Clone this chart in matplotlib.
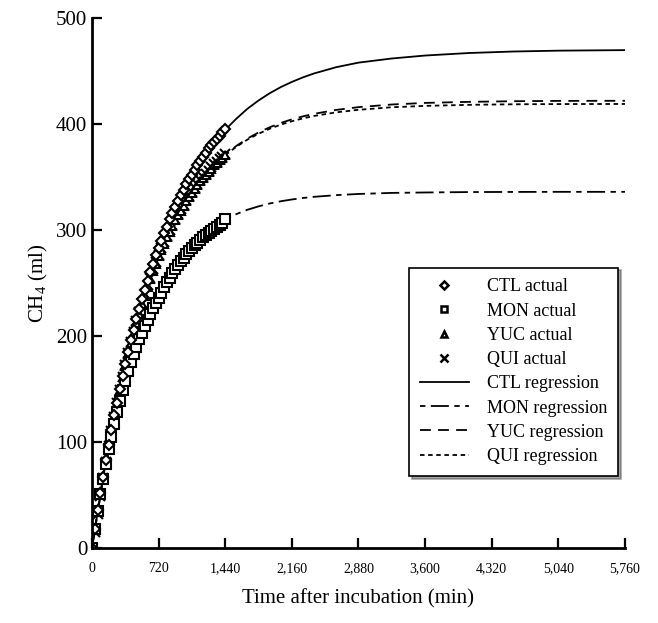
import numpy as np
import matplotlib
matplotlib.use("Agg")
import matplotlib.pyplot as plt
from matplotlib.lines import Line2D

plt.rcParams['font.family'] = ['Liberation Serif', 'DejaVu Serif']
plt.rcParams['mathtext.default'] = 'regular'

# measured gas production, every 30 min up to 1440 min
t_obs = np.arange(0, 1441, 30)
ctl_obs = [0, 18, 36, 52, 67, 83, 97, 111, 125, 137, 150, 162, 174, 185, 196, 206, 216,
           225, 235, 243, 252, 260, 268, 276, 283, 290, 297, 303, 310, 316, 322, 327, 333,
           338, 343, 348, 352, 357, 361, 365, 369, 373, 377, 380, 383, 386, 389, 392, 395]
mon_obs = [0, 18, 35, 51, 65, 79, 93, 105, 117, 128, 139, 149, 158, 167, 175, 183, 190,
           197, 203, 209, 215, 221, 226, 231, 236, 241, 246, 251, 255, 259, 263, 267, 271,
           274, 277, 280, 283, 286, 288, 291, 293, 295, 297, 299, 301, 303, 305, 307, 310]
yuc_obs = [0, 17, 34, 51, 67, 82, 97, 111, 124, 137, 149, 161, 172, 183, 193, 203, 212,
           221, 230, 238, 246, 254, 261, 268, 275, 281, 287, 293, 298, 304, 309, 314, 318,
           323, 327, 331, 335, 339, 342, 346, 349, 352, 355, 358, 361, 363, 366, 368, 371]
qui_obs = [0, 15, 32, 49, 66, 81, 96, 110, 124, 137, 149, 161, 173, 184, 194, 204, 214,
           223, 231, 240, 248, 255, 263, 270, 276, 283, 289, 294, 300, 305, 310, 315, 320,
           324, 328, 332, 336, 340, 343, 347, 350, 353, 356, 359, 362, 364, 367, 369, 372]

# fitted curves
t_fit = [0, 120, 240, 360, 480, 600, 720, 900, 1080, 1260, 1440, 1560, 1680, 1800, 1920,
         2040, 2160, 2280, 2400, 2640, 2880, 3240, 3600, 4080, 4560, 5040, 5760]
ctl_fit = [0, 66.5, 123.5, 172.5, 214.5, 250.7, 281.6, 320.1, 350.8, 375.1, 394.5, 405.0,
           414.4, 422.2, 429.0, 434.8, 439.7, 444.0, 447.7, 453.6, 457.9, 461.8, 464.6,
           467.0, 468.4, 469.2, 469.7]
mon_fit = [0, 64.6, 116.8, 159.0, 193.0, 220.5, 242.7, 268.3, 286.8, 300.3, 310.1, 315.0,
           319.1, 322.3, 325.0, 327.1, 328.8, 330.2, 331.3, 332.9, 334.0, 335.0, 335.4,
           335.8, 335.9, 336.0, 336.0]
yuc_fit = [0, 68.2, 125.5, 173.4, 213.6, 247.3, 275.6, 309.6, 335.7, 355.8, 371.2, 379.3,
           386.3, 392.0, 396.9, 401.0, 404.4, 407.2, 409.6, 413.3, 415.9, 418.4, 419.9,
           420.9, 421.5, 421.8, 421.9]
qui_fit = [0, 69.0, 126.7, 174.9, 215.0, 248.6, 276.7, 310.4, 336.1, 355.7, 370.7, 378.5,
           385.3, 390.8, 395.5, 399.4, 402.6, 405.3, 407.6, 411.0, 413.4, 415.8, 417.1,
           418.1, 418.6, 418.8, 418.9]

x_ticks = [0, 720, 1440, 2160, 2880, 3600, 4320, 5040, 5760]
x_labels = ['0', '720', '1,440', '2,160', '2,880', '3,600', '4,320', '5,040', '5,760']

fig = plt.figure(figsize=(6.58, 6.23), dpi=100)
ax = fig.add_axes([0.1398, 0.1204, 0.8100, 0.8507])

lw = 1.3
ax.plot(t_fit, ctl_fit, color='black', lw=lw, linestyle='-')
ax.plot(t_fit, mon_fit, color='black', lw=lw, dashes=(3, 3, 10, 3))
ax.plot(t_fit, yuc_fit, color='black', lw=lw, dashes=(6, 4))
ax.plot(t_fit, qui_fit, color='black', lw=lw, dashes=(2.5, 2))

mk = dict(linestyle='none', color='black', markerfacecolor='white', markeredgewidth=1.5)
ax.plot(t_obs, qui_obs, marker='x', markersize=7, **mk)
ax.plot(t_obs, yuc_obs, marker='^', markersize=6, **mk)
ax.plot(t_obs, mon_obs, marker='s', markersize=6.5, **mk)
ax.plot(t_obs, ctl_obs, marker='D', markersize=5.5, **mk)

ax.set_xlim(0, 5760)
ax.set_ylim(0, 500)
ax.set_xticks(x_ticks)
ax.set_xticklabels(x_labels, fontsize=10)
ax.set_yticks([0, 100, 200, 300, 400, 500])
ax.tick_params(axis='y', labelsize=15)
ax.tick_params(direction='in', length=7, width=1.6)
ax.tick_params(axis='x', pad=10)
for s in ['top', 'right']:
    ax.spines[s].set_visible(False)
for s in ['left', 'bottom']:
    ax.spines[s].set_linewidth(2)

ax.set_xlabel('Time after incubation (min)', fontsize=15, labelpad=10)
ax.set_ylabel('CH$_4$ (ml)', fontsize=15, labelpad=4)

handles = [
    Line2D([], [], linestyle='none', marker='D', markersize=4.5, color='black',
           markerfacecolor='white', markeredgewidth=1.8),
    Line2D([], [], linestyle='none', marker='s', markersize=5, color='black',
           markerfacecolor='white', markeredgewidth=1.8),
    Line2D([], [], linestyle='none', marker='^', markersize=5, color='black',
           markerfacecolor='white', markeredgewidth=1.8),
    Line2D([], [], linestyle='none', marker='x', markersize=5.5, color='black',
           markeredgewidth=1.8),
    Line2D([], [], color='black', lw=lw, linestyle='-'),
    Line2D([], [], color='black', lw=lw, dashes=(3, 3, 10, 3)),
    Line2D([], [], color='black', lw=lw, dashes=(6, 4)),
    Line2D([], [], color='black', lw=lw, dashes=(2.5, 2)),
]
labels = ['CTL actual', 'MON actual', 'YUC actual', 'QUI actual',
          'CTL regression', 'MON regression', 'YUC regression', 'QUI regression']
leg = ax.legend(handles, labels, loc='upper left', bbox_to_anchor=(0.578, 0.546),
                fontsize=13, frameon=True, fancybox=False, shadow=True,
                edgecolor='black', handlelength=2.7, handletextpad=1.0,
                labelspacing=0.4, borderpad=0.6)
leg.get_frame().set_linewidth(1.2)

fig.savefig('out.png', dpi=100, facecolor='white')
